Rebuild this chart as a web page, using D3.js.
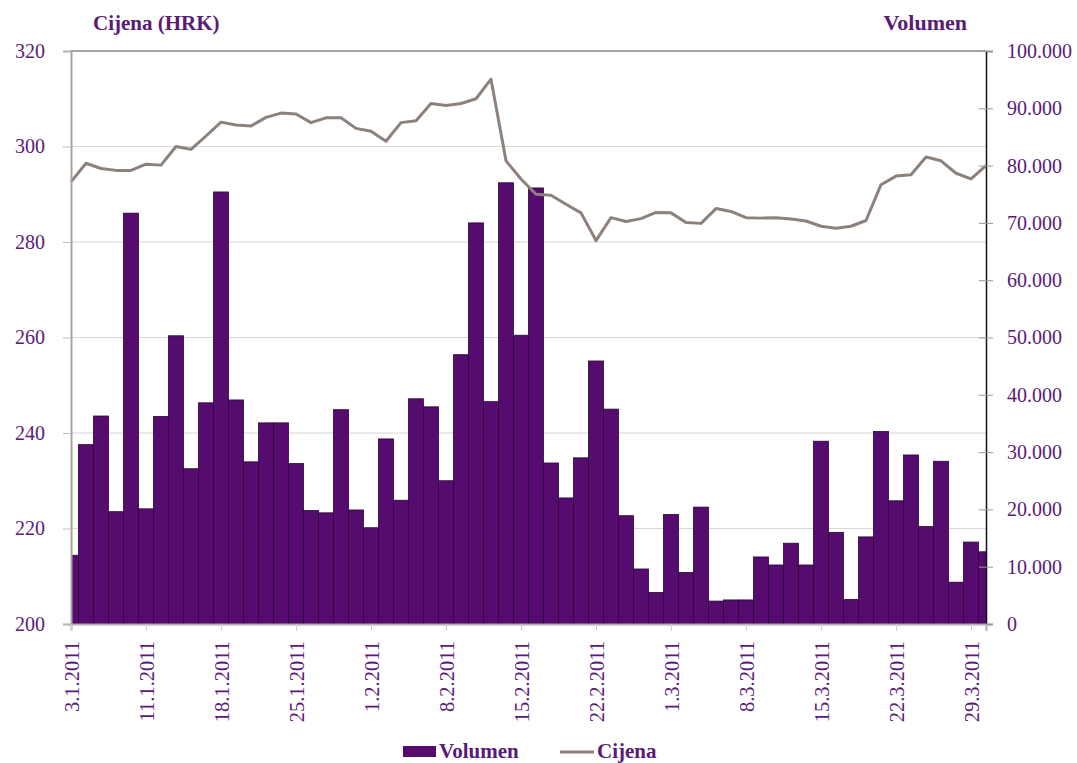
<!DOCTYPE html>
<html>
<head>
<meta charset="utf-8">
<script src="https://cdn.jsdelivr.net/npm/d3@7"></script>
<style>
    body { margin: 0; background: #fff; }
    text { font-family: "Liberation Serif", "Times New Roman", serif; fill: #5a1a78; }
</style>
</head>
<body>
<div id="chart"></div>
<script>
// trgovinski dani (Q1 2011)
const dates = [
    "3.1.2011", "4.1.2011", "5.1.2011", "7.1.2011", "10.1.2011",
    "11.1.2011", "12.1.2011", "13.1.2011", "14.1.2011", "17.1.2011",
    "18.1.2011", "19.1.2011", "20.1.2011", "21.1.2011", "24.1.2011",
    "25.1.2011", "26.1.2011", "27.1.2011", "28.1.2011", "31.1.2011",
    "1.2.2011", "2.2.2011", "3.2.2011", "4.2.2011", "7.2.2011",
    "8.2.2011", "9.2.2011", "10.2.2011", "11.2.2011", "14.2.2011",
    "15.2.2011", "16.2.2011", "17.2.2011", "18.2.2011", "21.2.2011",
    "22.2.2011", "23.2.2011", "24.2.2011", "25.2.2011", "28.2.2011",
    "1.3.2011", "2.3.2011", "3.3.2011", "4.3.2011", "7.3.2011",
    "8.3.2011", "9.3.2011", "10.3.2011", "11.3.2011", "14.3.2011",
    "15.3.2011", "16.3.2011", "17.3.2011", "18.3.2011", "21.3.2011",
    "22.3.2011", "23.3.2011", "24.3.2011", "25.3.2011", "28.3.2011",
    "29.3.2011", "30.3.2011"
];

const volumen = [
    12000, 31300, 36300, 19600, 71700, 20100, 36200, 50300, 27100, 38600,
    75400, 39100, 28300, 35100, 35100, 28000, 19800, 19400, 37400, 19900,
    16800, 32300, 21600, 39300, 37900, 25000, 47000, 70000, 38800, 77000,
    50400, 76100, 28100, 22000, 29000, 45900, 37500, 18900, 9600, 5500,
    19100, 9000, 20400, 4000, 4200, 4200, 11700, 10300, 14100, 10300,
    31900, 16000, 4300, 15200, 33600, 21500, 29500, 17000, 28400, 7300,
    14300, 12600
];

const cijena = [
    292.6, 296.5, 295.4, 295.0, 295.0, 296.3, 296.1, 300.0, 299.4, 302.2,
    305.1, 304.5, 304.3, 306.1, 307.0, 306.8, 305.0, 306.0, 306.0, 303.8,
    303.2, 301.1, 305.0, 305.4, 309.0, 308.6, 309.0, 310.0, 314.1, 297.0,
    293.2, 290.0, 289.8, 287.9, 286.1, 280.3, 285.1, 284.3, 284.9, 286.2,
    286.1, 284.1, 283.9, 287.0, 286.4, 285.1, 285.0, 285.1, 284.8, 284.4,
    283.3, 282.9, 283.3, 284.5, 292.0, 293.8, 294.1, 297.8, 297.0, 294.4,
    293.2, 296.0
];

const priceTicks = [200, 220, 240, 260, 280, 300, 320];
const volumeTicks = d3.range(0, 100001, 10000);
const LABEL_EVERY = 5;

const PURPLE = "#560c6e";
const LINE_COLOR = "#8c827b";
const TEXT_COLOR = "#5a1a78";

const W = 1077, H = 763;
const margin = { top: 51, right: 91, bottom: 139, left: 71 };
const width = W - margin.left - margin.right;
const height = H - margin.top - margin.bottom;

const svg = d3.select("#chart").append("svg")
    .attr("width", W)
    .attr("height", H);

const g = svg.append("g")
    .attr("transform", `translate(${margin.left}, ${margin.top})`);

const xScale = d3.scaleLinear().domain([0, dates.length - 1]).range([0, width]);
const step = xScale(1) - xScale(0);
const yPrice = d3.scaleLinear().domain([200, 320]).range([height, 0]);
const yVol = d3.scaleLinear().domain([0, 100000]).range([height, 0]);

// gridlines
g.append("g")
    .selectAll("line")
    .data(priceTicks.slice(1))
    .join("line")
    .attr("x1", 0).attr("x2", width)
    .attr("y1", d => yPrice(d)).attr("y2", d => yPrice(d))
    .attr("stroke", "#dad6d3")
    .attr("stroke-width", 1);

// bars clipped to plot area (first and last are half bars)
g.append("clipPath").attr("id", "plot-clip")
    .append("rect").attr("width", width).attr("height", height);

g.append("g")
    .attr("clip-path", "url(#plot-clip)")
    .selectAll("rect")
    .data(volumen)
    .join("rect")
    .attr("x", (d, i) => xScale(i) - step / 2)
    .attr("y", d => yVol(d))
    .attr("width", step)
    .attr("height", d => height - yVol(d))
    .attr("fill", PURPLE)
    .attr("stroke", "#2a0438")
    .attr("stroke-width", 0.8);

// price line
const line = d3.line()
    .x((d, i) => xScale(i))
    .y(d => yPrice(d));

g.append("path")
    .datum(cijena)
    .attr("d", line)
    .attr("fill", "none")
    .attr("stroke", LINE_COLOR)
    .attr("stroke-width", 3)
    .attr("stroke-linejoin", "round");

// top border
g.append("line")
    .attr("x1", 0).attr("x2", width)
    .attr("y1", 0).attr("y2", 0)
    .attr("stroke", "#a9a4a0")
    .attr("stroke-width", 2);

// left axis
const leftAxis = g.append("g")
    .call(d3.axisLeft(yPrice).tickValues(priceTicks).tickSize(8).tickPadding(18));
leftAxis.select(".domain").attr("stroke", "#a9a4a0").attr("stroke-width", 2);
leftAxis.selectAll(".tick line").attr("stroke", "#bdb8b4");
leftAxis.selectAll("text")
    .style("font-size", "20px")
    .style("fill", TEXT_COLOR);

// right axis
const fmtVol = d => d === 0 ? "0" : d3.format(",")(d).replace(/,/g, ".");
const rightAxis = g.append("g")
    .attr("transform", `translate(${width}, 0)`)
    .call(d3.axisRight(yVol).tickValues(volumeTicks).tickSize(7).tickPadding(14).tickFormat(fmtVol));
rightAxis.select(".domain").attr("stroke", "#111").attr("stroke-width", 1.5);
rightAxis.selectAll(".tick line")
    .attr("x1", -7)
    .attr("stroke", "#999");
rightAxis.selectAll("text")
    .style("font-size", "20px")
    .style("fill", TEXT_COLOR);

// bottom axis
const labelIdx = d3.range(0, dates.length, LABEL_EVERY);
const bottomAxis = g.append("g")
    .attr("transform", `translate(0, ${height})`)
    .call(d3.axisBottom(xScale).tickValues(labelIdx).tickSize(7).tickFormat(i => dates[i]));
bottomAxis.select(".domain").attr("stroke", "#b5b0ac").attr("stroke-width", 2);
bottomAxis.selectAll(".tick line").attr("stroke", "#d4d0cd");
bottomAxis.selectAll("text")
    .style("font-size", "20.5px")
    .style("fill", TEXT_COLOR)
    .attr("text-anchor", "end")
    .attr("transform", "rotate(-90)")
    .attr("x", -17)
    .attr("y", 0)
    .attr("dy", "0.35em");

// axis titles
svg.append("text")
    .attr("x", 93).attr("y", 30)
    .style("font-size", "21px")
    .style("font-weight", "bold")
    .text("Cijena (HRK)");

svg.append("text")
    .attr("x", 967).attr("y", 30)
    .attr("text-anchor", "end")
    .style("font-size", "22px")
    .style("font-weight", "bold")
    .text("Volumen");

// legend
const legend = svg.append("g");
legend.append("rect")
    .attr("x", 403).attr("y", 746)
    .attr("width", 33).attr("height", 11)
    .attr("fill", PURPLE);
legend.append("text")
    .attr("x", 439).attr("y", 758)
    .style("font-size", "21px")
    .style("font-weight", "bold")
    .text("Volumen");
legend.append("line")
    .attr("x1", 560).attr("x2", 594)
    .attr("y1", 752).attr("y2", 752)
    .attr("stroke", LINE_COLOR)
    .attr("stroke-width", 3);
legend.append("text")
    .attr("x", 597).attr("y", 758)
    .style("font-size", "21px")
    .style("font-weight", "bold")
    .text("Cijena");
</script>
</body>
</html>
